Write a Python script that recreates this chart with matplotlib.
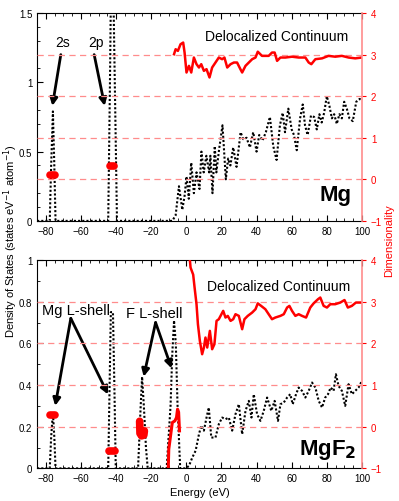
import matplotlib
matplotlib.use("Agg")
import matplotlib.pyplot as plt
from matplotlib.ticker import MultipleLocator

plt.rcParams['font.family'] = ['Liberation Sans', 'DejaVu Sans']

## Mg: density of states (left axis)
mg_e = [-85, -77.8, -77, -76, -75.2, -74.5, -44.5, -43.5, -43, -41.5, -40.5, -39.5,
        -8, -6.1, -4.2, -2.3, -1.0, 0.1, 1.4, 2.8, 4.3, 5.8, 7.5,
        8.6, 9.9, 11.4, 13.0, 13.7, 14.9, 16.2, 17.1, 18.7, 20.6,
        22.5, 23.8, 25.1, 26.7, 28.6, 30.9, 32.4, 34.3, 36.2, 38.1,
        40.0, 41.5, 43.4, 45.3, 47.6, 49.5, 51.4, 53.3, 54.9, 56.2,
        58.1, 60.0, 61.3, 62.9, 64.8, 66.3, 67.6, 69.1, 71.0, 72.8,
        74.3, 75.8, 77.1, 78.5, 80.0, 81.5, 82.9, 84.2, 85.7, 87.2,
        88.6, 89.9, 91.4, 92.9, 94.8, 96.8, 98.7, 100]
mg_dos = [0, 0, 0.4, 0.79, 0.4, 0, 0, 1.0, 1.6, 1.6, 0.8, 0,
          0, 0.04, 0.25, 0.08, 0.18, 0.32, 0.16, 0.42, 0.2, 0.35, 0.23,
          0.50, 0.35, 0.47, 0.35, 0.47, 0.20, 0.54, 0.35, 0.52, 0.69,
          0.30, 0.45, 0.40, 0.53, 0.39, 0.64, 0.59, 0.60, 0.53, 0.64,
          0.50, 0.62, 0.58, 0.64, 0.75, 0.54, 0.44, 0.69, 0.78, 0.64,
          0.81, 0.66, 0.62, 0.51, 0.74, 0.84, 0.69, 0.62, 0.76, 0.75,
          0.66, 0.77, 0.71, 0.78, 0.90, 0.83, 0.74, 0.77, 0.70, 0.77,
          0.74, 0.86, 0.81, 0.74, 0.72, 0.86, 0.88, 0.87]

## Mg: dimensionality (right axis)
mg_dim_e = [-7.0, -6.1, -4.8, -3.3, -1.8, -1.0, 0.1, 1.5, 2.8, 4.3,
            5.8, 7.2, 8.5, 10.0, 11.5, 13.2, 14.7, 16.6, 18.5, 20.4,
            21.7, 23.3, 25.2, 27.1, 28.9, 30.8, 31.8, 33.7, 35.6, 37.5,
            39.4, 40.7, 43.1, 46.9, 48.8, 50.3, 51.7, 53.6, 56.4, 60.2,
            64.0, 67.8, 69.7, 71.2, 73.5, 77.3, 81.0, 84.8, 88.6, 92.4,
            96.2, 100]
mg_dim = [3.01, 3.13, 3.09, 3.25, 3.29, 3.05, 2.57, 2.73, 2.57, 2.93,
          2.77, 2.69, 2.77, 2.61, 2.65, 2.45, 2.69, 2.81, 2.93, 2.89,
          2.93, 2.69, 2.77, 2.81, 2.81, 2.65, 2.57, 2.73, 2.81, 2.89,
          2.93, 3.07, 2.97, 2.97, 3.05, 3.05, 2.85, 2.93, 2.93, 2.95,
          2.93, 2.93, 2.81, 2.77, 2.89, 2.91, 2.97, 2.95, 2.97, 2.93,
          2.91, 2.93]
mg_core_e = [[-77.5, -74.8], [-43.5, -41.0]]
mg_core_dim = [[0.1, 0.1], [0.33, 0.33]]

## MgF2: density of states
mgf2_e = [-85, -77.8, -77, -76, -75.2, -74.5, -44.5, -43.5, -43, -41.8,
          -41, -40.2, -27.5, -26, -25.2, -24.2, -23, -22, -11.2, -9,
          -8, -7, -6, -5, -3.5, -0.4, 1.5, 3.4, 5.3, 7.2,
          8.5, 10.0, 11.5, 12.8, 14.2, 16.6, 18.5, 20.4, 22.3, 24.2,
          26.1, 28.0, 29.9, 31.8, 33.7, 35.6, 37.1, 38.4, 40.3, 42.2,
          44.1, 46.0, 48.4, 50.3, 52.2, 53.6, 55.5, 57.4, 59.2, 60.6,
          62.5, 64.0, 65.9, 67.8, 69.7, 71.6, 73.5, 75.4, 77.3, 79.1,
          80.7, 82.2, 83.9, 85.2, 86.7, 88.6, 90.5, 92.4, 94.3, 96.2,
          98.1, 100]
mgf2_dos = [0, 0, 0.15, 0.27, 0.15, 0, 0, 0.5, 0.75, 0.75,
            0.4, 0, 0, 0.3, 0.44, 0.3, 0.1, 0, 0, 0.3,
            0.55, 0.71, 0.6, 0.3, 0, 0, 0.012, 0.052, 0.085, 0.164,
            0.205, 0.181, 0.244, 0.292, 0.148, 0.148, 0.212, 0.244, 0.236, 0.244,
            0.181, 0.26, 0.308, 0.164, 0.276, 0.324, 0.244, 0.356, 0.26, 0.228,
            0.276, 0.34, 0.276, 0.324, 0.228, 0.308, 0.316, 0.34, 0.356, 0.308,
            0.356, 0.388, 0.372, 0.34, 0.372, 0.412, 0.388, 0.324, 0.292, 0.34,
            0.356, 0.388, 0.372, 0.452, 0.396, 0.372, 0.30, 0.404, 0.356, 0.372,
            0.388, 0.42]

## MgF2: dimensionality
mgf2_dim_e = [1.4, 2.4, 3.9, 4.7, 5.8, 6.6, 7.7, 9.0, 10.0, 10.9,
              11.9, 13.4, 14.7, 16.0, 17.2, 18.5, 19.5, 21.0, 22.3, 23.6,
              25.2, 26.7, 28.0, 29.9, 31.8, 33.1, 35.0, 37.5, 39.4, 40.7,
              42.6, 45.0, 46.9, 48.8, 50.7, 53.6, 55.5, 57.4, 58.7, 60.2,
              62.1, 64.0, 65.9, 68.2, 70.6, 72.5, 75.0, 76.3, 78.2, 80.1,
              82.0, 84.8, 87.7, 90.1, 92.0, 94.3, 96.6, 100]
mgf2_dim = [4.3, 3.82, 3.65, 3.34, 2.94, 2.46, 2.06, 1.74, 1.90, 2.14,
            1.90, 2.30, 1.86, 1.98, 2.54, 2.58, 2.66, 2.78, 2.62, 2.66,
            2.54, 2.58, 2.70, 2.66, 2.34, 2.58, 2.66, 2.74, 2.82, 2.96,
            2.90, 2.82, 2.70, 2.58, 2.62, 2.66, 2.70, 2.86, 2.90, 2.78,
            2.66, 2.70, 2.66, 2.62, 2.86, 2.96, 3.06, 3.10, 2.90, 2.86,
            2.94, 2.94, 2.98, 3.04, 2.86, 2.90, 2.98, 2.98]
mgf2_fdim_e = [-10.3, -10.0, -9.5, -9.0, -8.0, -6.5, -5.6, -5.0, -4.4, -3.9]
mgf2_fdim = [-1.0, -0.54, -0.38, -0.22, 0.1, 0.14, 0.22, 0.42, 0.35, -0.1]
mgf2_core_e = [[-77.5, -74.8], [-44.3, -40.8], [-26.6, -26.4, -25.5, -24.2, -23.9]]
mgf2_core_dim = [[0.29, 0.29], [-0.58, -0.58], [0.13, -0.16, -0.22, -0.2, -0.1]]

dim_lines = [0, 1, 2, 3]
pink = "#ff8c8c"

fig = plt.figure(figsize=(3.99, 5.02), dpi=100)
ax_top = fig.add_axes([0.093, 0.558, 0.814, 0.414])
ax_bot = fig.add_axes([0.093, 0.065, 0.814, 0.415])


def setup(ax, ymax, major, minor):
    ax.set_xlim(-85, 100)
    ax.set_ylim(0, ymax)
    ax.xaxis.set_major_locator(MultipleLocator(20))
    ax.xaxis.set_minor_locator(MultipleLocator(5))
    ax.yaxis.set_major_locator(MultipleLocator(major))
    ax.yaxis.set_minor_locator(MultipleLocator(minor))
    ax.tick_params(which="both", direction="in", top=True, right=False, labelsize=7)
    ax.tick_params(which="major", length=4)
    ax.tick_params(which="minor", length=2)
    ax.spines["right"].set_visible(False)
    ax2 = ax.twinx()
    ax2.set_ylim(-1, 4)
    ax2.yaxis.set_major_locator(MultipleLocator(1))
    ax2.tick_params(axis="y", direction="out", length=3, colors="red", labelsize=7)
    ax2.spines["right"].set_color(pink)
    ax2.spines["right"].set_linewidth(1.2)
    for s in ["left", "top", "bottom"]:
        ax2.spines[s].set_visible(False)
    for v in dim_lines:
        ax2.axhline(v, color=pink, lw=0.9, dashes=(5, 3.5), zorder=0)
    return ax2


def fmt(v, pos):
    return "%g" % v


dot = (0, (1, 1))
arrow = dict(arrowstyle="-|>", color="k", lw=2, mutation_scale=11, shrinkA=0, shrinkB=0)

# top panel: Mg
tw = setup(ax_top, 1.5, 0.5, 0.1)
ax_top.yaxis.set_major_formatter(fmt)
ax_top.plot(mg_e, mg_dos, color="k", lw=1.5, linestyle=dot)
tw.plot(mg_dim_e, mg_dim, color="red", lw=1.8)
for xe, yd in zip(mg_core_e, mg_core_dim):
    tw.plot(xe, yd, color="red", lw=5.5, solid_capstyle="round")
ax_top.text(51.3, 1.335, "Delocalized Continuum", fontsize=10, ha="center", va="center")
ax_top.text(-70.5, 1.29, "2s", fontsize=10, ha="center", va="center")
ax_top.text(-51.5, 1.29, "2p", fontsize=10, ha="center", va="center")
ax_top.annotate("", xy=(-76.3, 0.83), xytext=(-71.5, 1.2), arrowprops=arrow)
ax_top.annotate("", xy=(-46.5, 0.83), xytext=(-52.5, 1.2), arrowprops=arrow)
ax_top.text(94, 0.19, "Mg", fontsize=16, fontweight="bold", ha="right", va="center")

# bottom panel: MgF2
bw = setup(ax_bot, 1.0, 0.2, 0.1)
ax_bot.yaxis.set_major_formatter(fmt)
ax_bot.plot(mgf2_e, mgf2_dos, color="k", lw=1.5, linestyle=dot)
bw.plot(mgf2_dim_e, mgf2_dim, color="red", lw=1.8)
bw.plot(mgf2_fdim_e, mgf2_fdim, color="red", lw=2.2)
for xe, yd in zip(mgf2_core_e, mgf2_core_dim):
    bw.plot(xe, yd, color="red", lw=5.5, solid_capstyle="round", solid_joinstyle="round")
ax_bot.text(52.4, 0.875, "Delocalized Continuum", fontsize=10, ha="center", va="center")
ax_bot.text(-82, 0.76, "Mg L-shell", fontsize=10.5, ha="left", va="center")
ax_bot.text(-34.5, 0.745, "F L-shell", fontsize=10.5, ha="left", va="center")
ax_bot.annotate("", xy=(-74.7, 0.30), xytext=(-65.8, 0.72), arrowprops=arrow)
ax_bot.annotate("", xy=(-44.6, 0.355), xytext=(-65.8, 0.72), arrowprops=arrow)
ax_bot.annotate("", xy=(-24.3, 0.44), xytext=(-17.5, 0.70), arrowprops=arrow)
ax_bot.annotate("", xy=(-8.4, 0.48), xytext=(-17.5, 0.70), arrowprops=arrow)
ax_bot.text(97, 0.095, "MgF$_\\mathbf{2}$", fontsize=16, fontweight="bold", ha="right", va="center")
ax_bot.set_xlabel("Energy (eV)", fontsize=8, labelpad=3)

fig.text(0.027, 0.52, "Density of States (states eV$^{-1}$ atom$^{-1}$)", rotation=90,
         fontsize=8, ha="center", va="center")
fig.text(0.975, 0.52, "Dimensionality", rotation=90, color="red",
         fontsize=8, ha="center", va="center")

fig.savefig("out.png", dpi=100)
